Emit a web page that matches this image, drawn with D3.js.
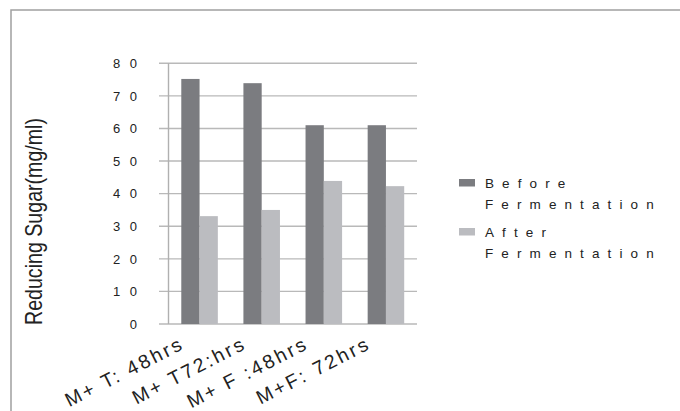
<!DOCTYPE html>
<html>
<head>
<meta charset="utf-8">
<script src="https://cdn.jsdelivr.net/npm/d3@7"></script>
<style>
  html, body { margin: 0; padding: 0; background: #fff; }
  svg { display: block; }
  text { font-family: "Liberation Sans", Arial, sans-serif; fill: #222; }
</style>
</head>
<body>
<script>
const categories = ["M+ T: 48hrs", "M+ T72:hrs", "M+ F :48hrs", "M+F: 72hrs"];
const seriesNames = ["Before Fermentation", "After Fermentation"];
const legendLines = [["Before", "Fermentation"], ["After", "Fermentation"]];
const beforeValues = [75.2, 73.9, 61.0, 61.0];
const afterValues = [33.1, 35.0, 43.9, 42.3];
const yTicks = [0, 10, 20, 30, 40, 50, 60, 70, 80];
const yTitle = "Reducing Sugar(mg/ml)";
const colors = ["#7b7c80", "#bbbcc0"];

const W = 680, H = 411;
const svg = d3.select("body").append("svg").attr("width", W).attr("height", H);

// outer frame
svg.append("rect").attr("x", 11).attr("y", 10).attr("width", W).attr("height", H)
  .attr("fill", "none").attr("stroke", "#a0a0a0").attr("stroke-width", 1.5);

const plotLeft = 168.5, plotRight = 417, plotTop = 63.3, plotBottom = 324;
const y = d3.scaleLinear().domain([0, 80]).range([plotBottom, plotTop]);
const x0 = d3.scaleBand().domain(categories).range([plotLeft, plotRight]).paddingInner(0).paddingOuter(0);
const x1 = d3.scaleBand().domain(seriesNames).range([0, x0.bandwidth()]).paddingInner(0).paddingOuter(0.7);

// gridlines
svg.append("g").selectAll("line").data(yTicks).join("line")
  .attr("x1", 159).attr("x2", plotRight)
  .attr("y1", d => y(d)).attr("y2", d => y(d))
  .attr("stroke", "#b9b9b9").attr("stroke-width", 1.4);

// vertical axis line
svg.append("line").attr("x1", plotLeft).attr("x2", plotLeft)
  .attr("y1", y(80)).attr("y2", y(0)).attr("stroke", "#b0b0b0").attr("stroke-width", 1.4);

// bars
const data = categories.map((c, i) => ({ c, vals: [beforeValues[i], afterValues[i]] }));
const groups = svg.append("g").selectAll("g").data(data).join("g")
  .attr("transform", d => `translate(${x0(d.c)},0)`);
groups.selectAll("rect").data(d => d.vals.map((v, j) => ({ v, s: seriesNames[j], j })))
  .join("rect")
  .attr("x", d => x1(d.s)).attr("width", x1.bandwidth())
  .attr("y", d => y(d.v)).attr("height", d => y(0) - y(d.v))
  .attr("fill", d => colors[d.j]);

// y tick labels
const tickLS = 9.5;
svg.append("g").selectAll("text").data(yTicks).join("text")
  .attr("x", 137 + tickLS).attr("y", d => y(d)).attr("dy", "0.36em")
  .attr("text-anchor", "end").style("font-size", "13px").style("letter-spacing", tickLS + "px")
  .text(d => d);

// y title
svg.append("text")
  .attr("transform", "translate(42,221.5) rotate(-90)")
  .attr("text-anchor", "middle")
  .attr("textLength", 207).attr("lengthAdjust", "spacingAndGlyphs")
  .style("font-family", "'Liberation Sans Narrow', 'Arial Narrow', 'Liberation Sans', sans-serif")
  .style("font-size", "24px")
  .text(yTitle);

// x labels
const xLS = 2.6;
svg.append("g").selectAll("text").data(categories).join("text")
  .attr("transform", d => `translate(${x0(d) + x0.bandwidth() / 2 - 14},${plotBottom + 24}) rotate(-27)`)
  .attr("text-anchor", "end").style("font-size", "19.5px").style("letter-spacing", xLS + "px")
  .text(d => d);

// legend
const legY = [179, 228];
const leg = svg.append("g").selectAll("g").data(seriesNames).join("g");
leg.append("rect").attr("x", 459).attr("y", (d, i) => legY[i]).attr("width", 16).attr("height", 7.5)
  .attr("fill", (d, i) => colors[i]);
leg.each(function (d, i) {
  const g = d3.select(this);
  legendLines[i].forEach((line, k) => {
    g.append("text").attr("x", 485).attr("y", legY[i] + 8.5 + k * 21)
      .style("font-size", "13.5px").style("letter-spacing", "8.1px").text(line);
  });
});
</script>
</body>
</html>
